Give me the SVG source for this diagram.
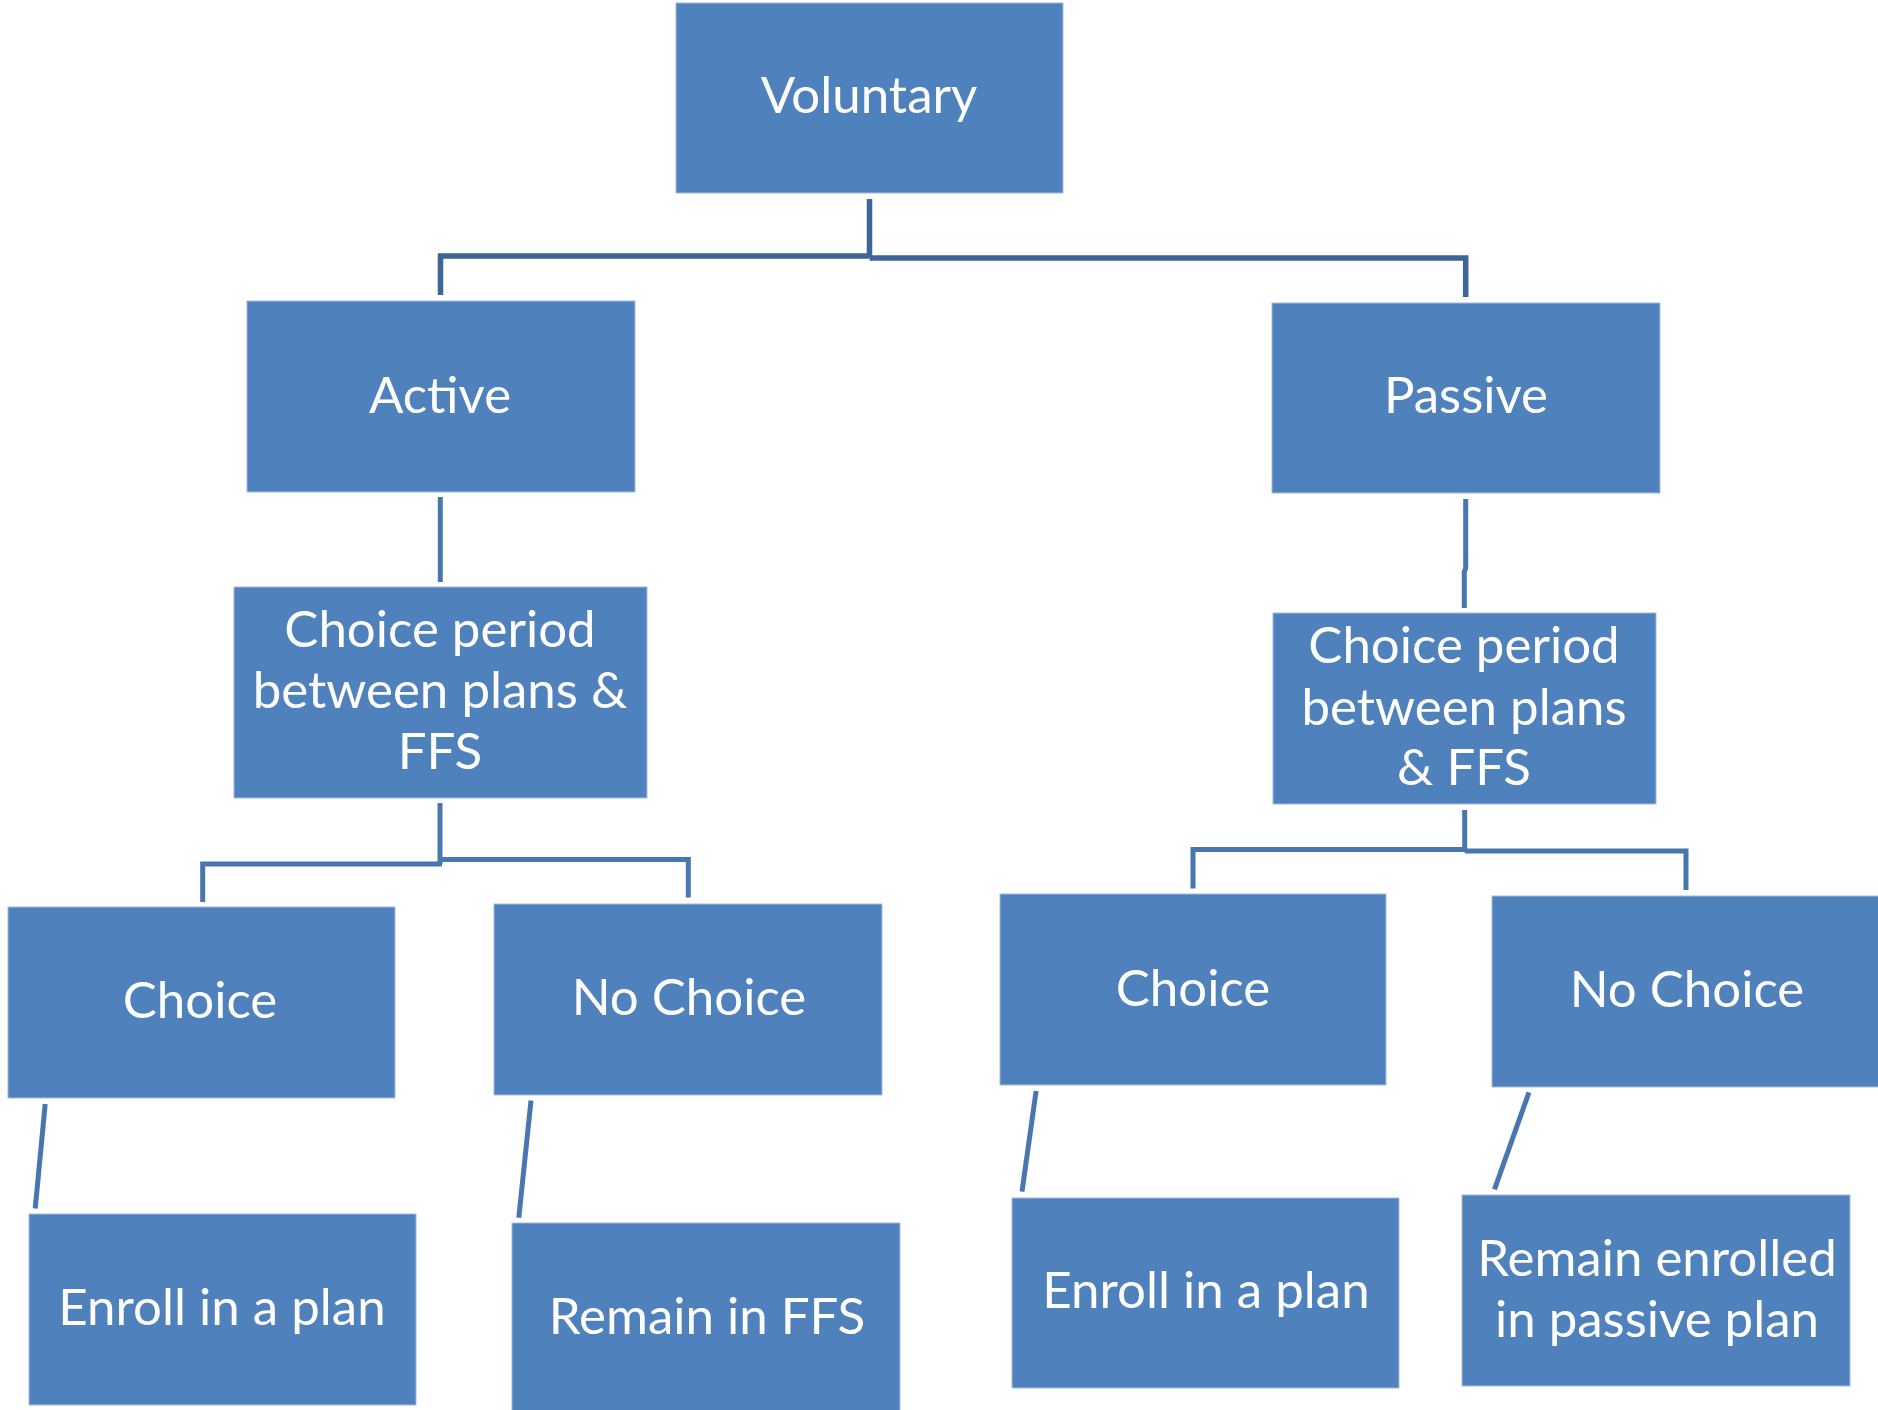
<svg xmlns="http://www.w3.org/2000/svg" width="1878" height="1410" viewBox="0 0 1878 1410">
<style>
.box{fill:#4F81BD;stroke:#A3BCDD;stroke-width:1}
.t{font-family:Lato,"Open Sans","Liberation Sans",sans-serif;font-size:51px;fill:#FFFFFF;text-anchor:middle}
.c1{fill:none;stroke:#3E6598;stroke-width:5.5}
.c2{fill:none;stroke:#4876B0;stroke-width:5}
</style>
<rect width="1878" height="1410" fill="#FFFFFF"/>
<g id="connectors">
<path class="c1" d="M869.5,199 V257 M869.5,256 H440.5 V295"/>
<path class="c1" d="M869.5,258 H1465.7 V297"/>
<path class="c2" d="M440.3,497 V582"/>
<path class="c2" d="M1465.7,499 V568 L1464.3,572 V608"/>
<path class="c2" d="M440,803 V864 M442,864 H202.7 V902 M440,859.5 H688.3 V897.5"/>
<path class="c2" d="M1464.7,810 V851 M1467,849.5 H1193 V888.5 M1464.7,851 H1686 V890"/>
<path class="c2" d="M45.2,1104 L35.2,1208.5"/>
<path class="c2" d="M531,1100.5 L518.8,1217.7"/>
<path class="c2" d="M1036.1,1091 L1022,1191.7"/>
<path class="c2" d="M1529,1092.3 L1494.5,1189.3"/>
</g>
<g id="voluntary"><rect class="box" x="676" y="3" width="387" height="190"/><text class="t" x="869" y="113">Voluntary</text></g>
<g id="active"><rect class="box" x="247" y="301" width="388" height="191"/><text class="t" x="440" y="413">Active</text></g>
<g id="passive"><rect class="box" x="1272" y="303" width="388" height="190"/><text class="t" x="1466" y="413">Passive</text></g>
<g id="choice-period-active"><rect class="box" x="234" y="587" width="413" height="211"/><text class="t" x="440" y="647">Choice period</text><text class="t" x="440" y="708">between plans &amp;</text><text class="t" x="440" y="769">FFS</text></g>
<g id="choice-period-passive"><rect class="box" x="1273" y="613" width="383" height="191"/><text class="t" x="1464" y="663">Choice period</text><text class="t" x="1464" y="725">between plans</text><text class="t" x="1464" y="785">&amp; FFS</text></g>
<g id="choice-active"><rect class="box" x="8" y="907" width="387" height="191"/><text class="t" x="200" y="1018">Choice</text></g>
<g id="nochoice-active"><rect class="box" x="494" y="904" width="388" height="191"/><text class="t" x="689" y="1015">No Choice</text></g>
<g id="choice-passive"><rect class="box" x="1000" y="894" width="386" height="191"/><text class="t" x="1193" y="1006">Choice</text></g>
<g id="nochoice-passive"><rect class="box" x="1492" y="896" width="388" height="191"/><text class="t" x="1687" y="1007">No Choice</text></g>
<g id="enroll-active"><rect class="box" x="29" y="1214" width="387" height="191"/><text class="t" x="222" y="1325">Enroll in a plan</text></g>
<g id="remain-ffs"><rect class="box" x="512" y="1223" width="388" height="190"/><text class="t" x="707" y="1334">Remain in FFS</text></g>
<g id="enroll-passive"><rect class="box" x="1012" y="1198" width="387" height="190"/><text class="t" x="1206" y="1308">Enroll in a plan</text></g>
<g id="remain-passive"><rect class="box" x="1462" y="1195" width="388" height="191"/><text class="t" x="1657" y="1276">Remain enrolled</text><text class="t" x="1657" y="1337">in passive plan</text></g>
</svg>
